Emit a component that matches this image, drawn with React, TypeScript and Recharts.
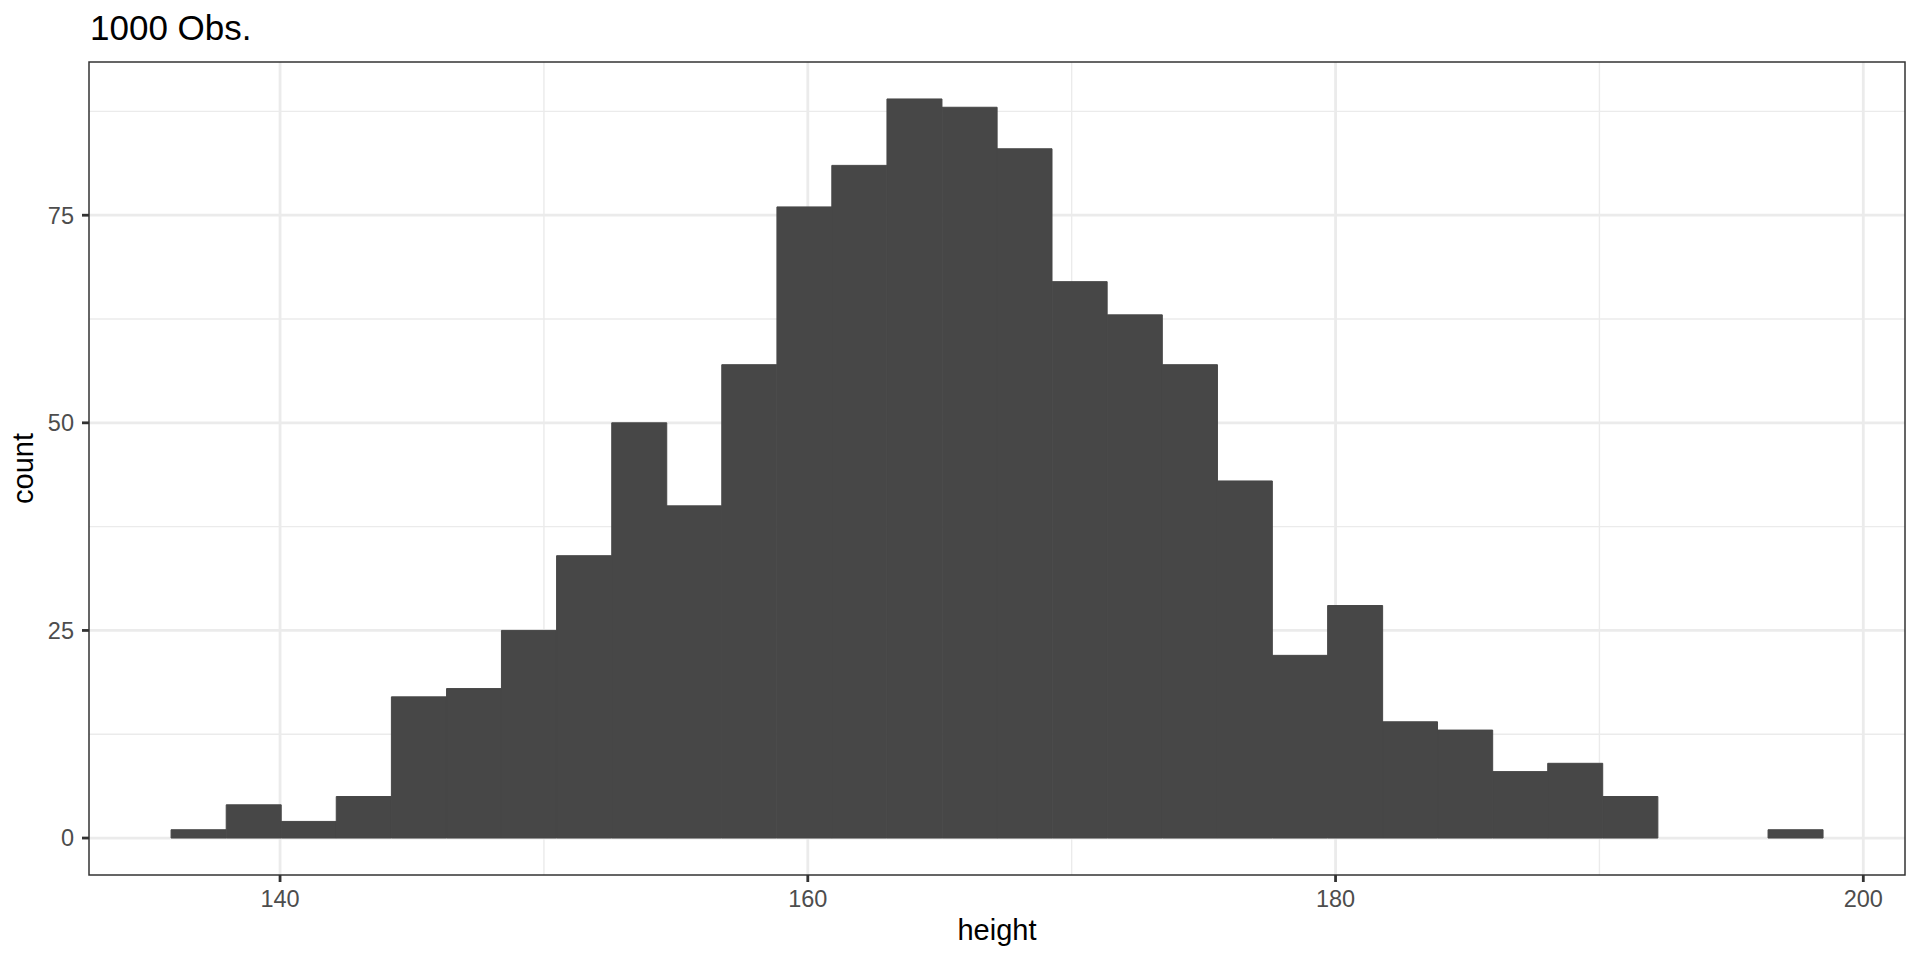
import React from 'react';
import { ComposedChart, Bar, XAxis, YAxis, CartesianGrid } from 'recharts';

// Histogram bins (centres of the 30 bins) and counts
const binCenters = [
  136.91, 139.0, 141.09, 143.17, 145.26, 147.35, 149.43, 151.52, 153.61, 155.69,
  157.78, 159.87, 161.95, 164.04, 166.13, 168.21, 170.3, 172.39, 174.48, 176.56,
  178.65, 180.74, 182.82, 184.91, 187.0, 189.08, 191.17, 193.26, 195.34, 197.43,
];
const counts = [
  1, 4, 2, 5, 17, 18, 25, 34, 50, 40,
  57, 76, 81, 89, 88, 83, 67, 63, 57, 43,
  22, 28, 14, 13, 8, 9, 5, 0, 0, 1,
];
const xTicks = [140, 160, 180, 200];
const xMinor = [150, 170, 190];
const yTicks = [0, 25, 50, 75];
const yMinor = [12.5, 37.5, 62.5, 87.5];
const xDomain: [number, number] = [132.76, 201.58];
const yDomain: [number, number] = [-4.45, 93.45];

const titleText = '1000 Obs.';
const xTitle = 'height';
const yTitle = 'count';

const data = binCenters.map((c, i) => ({ height: c, count: counts[i] }));

const FONT = '"Liberation Sans", Arial, Helvetica, sans-serif';
const tickStyle = { fill: '#4D4D4D', fontSize: 23.5, fontFamily: FONT };

// plot panel geometry (pixels)
const PANEL = { left: 89, top: 62, right: 1905, bottom: 875 };

export default function App() {
  return (
    <div style={{ position: 'absolute', left: 0, top: 0, width: 1920, height: 960, background: '#FFFFFF' }}>
      <ComposedChart
        width={1920}
        height={960}
        data={data}
        margin={{ top: PANEL.top, right: 1920 - PANEL.right, left: 0, bottom: 0 }}
        barCategoryGap={0}
        barGap={0}
      >
        <CartesianGrid
          stroke="#EBEBEB"
          strokeWidth={1.4}
          horizontalValues={yMinor}
          verticalValues={xMinor}
        />
        <CartesianGrid
          stroke="#EBEBEB"
          strokeWidth={2.8}
          horizontalValues={yTicks}
          verticalValues={xTicks}
        />
        <XAxis
          dataKey="height"
          type="number"
          domain={xDomain}
          allowDataOverflow
          ticks={xTicks}
          height={960 - PANEL.bottom}
          tickSize={7}
          tickMargin={8}
          tick={tickStyle}
          axisLine={false}
          tickLine={{ stroke: '#333333', strokeWidth: 2.8 }}
        />
        <YAxis
          type="number"
          domain={yDomain}
          allowDataOverflow
          ticks={yTicks}
          width={PANEL.left}
          tickSize={7}
          tickMargin={8}
          tick={tickStyle}
          axisLine={false}
          tickLine={{ stroke: '#333333', strokeWidth: 2.8 }}
        />
        <Bar
          dataKey="count"
          fill="#474747"
          stroke="#474747"
          strokeWidth={1}
          isAnimationActive={false}
        />
      </ComposedChart>
      <svg
        width={1920}
        height={960}
        style={{ position: 'absolute', left: 0, top: 0, pointerEvents: 'none' }}
      >
        <rect
          x={PANEL.left}
          y={PANEL.top}
          width={PANEL.right - PANEL.left}
          height={PANEL.bottom - PANEL.top}
          fill="none"
          stroke="#333333"
          strokeWidth={1.5}
        />
        <text x={90} y={40} fontSize={35} fontFamily={FONT} fill="#000000">{titleText}</text>
        <text x={997} y={940} fontSize={29} fontFamily={FONT} fill="#000000" textAnchor="middle">{xTitle}</text>
        <text
          transform="translate(33,468.5) rotate(-90)"
          fontSize={29}
          fontFamily={FONT}
          fill="#000000"
          textAnchor="middle"
        >
          {yTitle}
        </text>
      </svg>
    </div>
  );
}
